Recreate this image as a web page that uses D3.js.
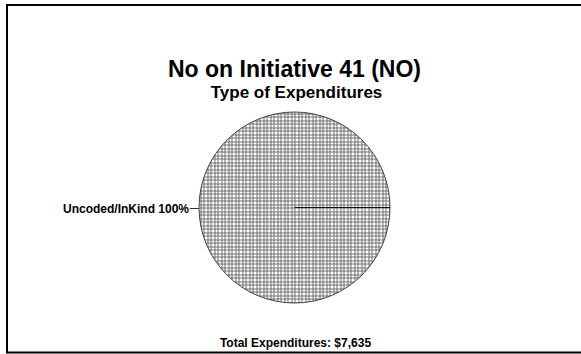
<!DOCTYPE html>
<html><head><meta charset="utf-8">
<script src="https://cdn.jsdelivr.net/npm/d3@7"></script>
<style>html,body{margin:0;padding:0;background:#fff;}svg{display:block;}</style>
</head><body>
<script>
const title = "No on Initiative 41 (NO)";
const subtitle = "Type of Expenditures";
const categories = ["Uncoded/InKind"];
const values = [7635];
const totalLabel = "Total Expenditures: $7,635";

const W = 581, H = 354;
const svg = d3.select("body").append("svg").attr("width", W).attr("height", H);
const font = "Liberation Sans, Arial, sans-serif";

const defs = svg.append("defs");
const pat = defs.append("pattern").attr("id","grid").attr("patternUnits","userSpaceOnUse")
  .attr("width",7).attr("height",7);
pat.append("rect").attr("width",7).attr("height",7).attr("fill","#fff");
pat.append("path").attr("d","M0.5,0V7M4.5,0V7M0,0.5H7M0,4.5H7")
  .attr("stroke","#6e6e6e").attr("stroke-width",1).attr("shape-rendering","crispEdges");

// frame
svg.append("path").attr("d","M7,353V5H581").attr("fill","none").attr("stroke","#000").attr("stroke-width",2);
svg.append("line").attr("x1",6).attr("x2",581).attr("y1",352.5).attr("y2",352.5).attr("stroke","#000").attr("stroke-width",2);

svg.append("text").attr("x",294.5).attr("y",77).attr("text-anchor","middle")
  .attr("font-family",font).attr("font-weight","bold").attr("font-size",23).text(title);
svg.append("text").attr("x",296.5).attr("y",97.5).attr("text-anchor","middle")
  .attr("font-family",font).attr("font-weight","bold").attr("font-size",17).text(subtitle);

const cx = 294.5, cy = 207.5, r = 95.5;
const g = svg.append("g").attr("transform",`translate(${cx},${cy})`);
const pie = d3.pie().sort(null).startAngle(Math.PI/2).endAngle(Math.PI/2 + 2*Math.PI);
const arcs = pie(values);
const arc = d3.arc().innerRadius(0).outerRadius(r);

g.selectAll("path.slice").data(arcs).join("path").attr("class","slice")
  .attr("d", arc).attr("fill","url(#grid)").attr("stroke","#444").attr("stroke-width",1);

// slice boundary lines
g.selectAll("line.bound").data(arcs).join("line").attr("class","bound")
  .attr("x1",0).attr("y1",0)
  .attr("x2", d => r*Math.sin(d.startAngle)).attr("y2", d => -r*Math.cos(d.startAngle))
  .attr("stroke","#111").attr("stroke-width",1.2);

const total = d3.sum(values);
arcs.forEach((d,i) => {
  const a = (d.startAngle + d.endAngle)/2;
  const x0 = r*Math.sin(a), y0 = -r*Math.cos(a);
  const x1 = (r+9)*Math.sin(a), y1 = -(r+9)*Math.cos(a);
  g.append("line").attr("x1",x0).attr("y1",y0+1).attr("x2",x1).attr("y2",y1+1)
    .attr("stroke","#333").attr("stroke-width",1);
  g.append("text").attr("x",x1-1).attr("y",y1+5).attr("text-anchor","end")
    .attr("font-family",font).attr("font-weight","bold").attr("font-size",12)
    .text(`${categories[i]} ${Math.round(d.value/total*100)}%`);
});

svg.append("text").attr("x",295.5).attr("y",347).attr("text-anchor","middle")
  .attr("font-family",font).attr("font-weight","bold").attr("font-size",12).text(totalLabel);
</script>
</body></html>
